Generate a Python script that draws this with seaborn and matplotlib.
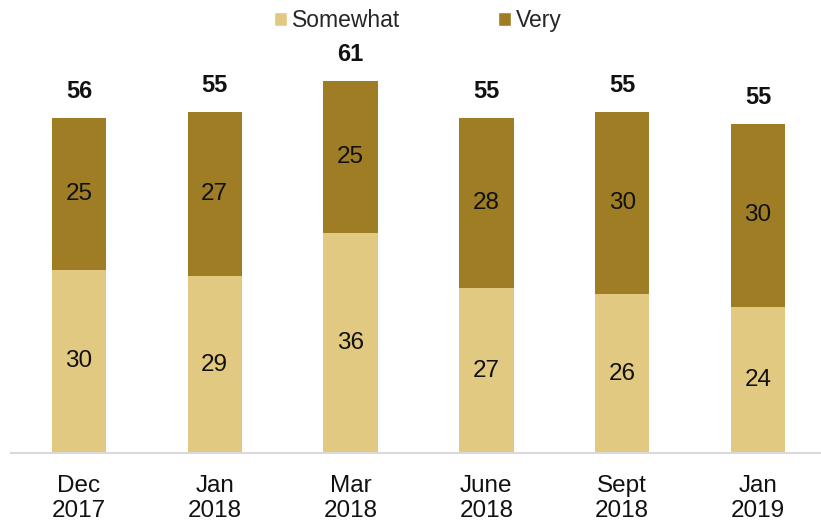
import matplotlib
matplotlib.use("Agg")
import matplotlib.pyplot as plt
import seaborn as sns
import pandas as pd
from matplotlib.patches import Patch

categories = ["Dec\n2017", "Jan\n2018", "Mar\n2018", "June\n2018", "Sept\n2018", "Jan\n2019"]
somewhat = [30, 29, 36, 27, 26, 24]
very = [25, 27, 25, 28, 30, 30]
totals = [56, 55, 61, 55, 55, 55]

LIGHT = "#E2C982"
DARK = "#9E7D24"

sns.set_theme(style="white")
plt.rcParams["font.family"] = ["Liberation Sans", "DejaVu Sans"]

df = pd.DataFrame({"cat": categories, "somewhat": somewhat, "very": very})
df["stack"] = df["somewhat"] + df["very"]

fig = plt.figure(figsize=(8.21, 5.23), dpi=100)
ax = fig.add_axes([0.0134, 0.134, 0.9866, 0.746])

sns.barplot(data=df, x="cat", y="stack", color=DARK, saturation=1, width=0.4, ax=ax, edgecolor="none")
sns.barplot(data=df, x="cat", y="somewhat", color=LIGHT, saturation=1, width=0.4, ax=ax, edgecolor="none")

for i, (s, v, t) in enumerate(zip(somewhat, very, totals)):
    ax.text(i, s / 2, str(s), ha="center", va="center", fontsize=17.5, color="#111111")
    ax.text(i, s + v / 2, str(v), ha="center", va="center", fontsize=17.5, color="#111111")
    ax.text(i, s + v + 4.3, str(t), ha="center", va="center", fontsize=17, fontweight="bold", color="#111111")

ax.set_xlim(-0.5, 5.464)
ax.set_ylim(0, 64)
ax.set_xlabel("")
ax.set_ylabel("")
ax.set_yticks([])
ax.tick_params(axis="x", length=0, labelsize=17.5, pad=16, colors="#111111")
for lab in ax.get_xticklabels():
    lab.set_linespacing(1.15)
for side in ["top", "right", "left"]:
    ax.spines[side].set_visible(False)
ax.spines["bottom"].set_color("#d9d9d9")
ax.spines["bottom"].set_linewidth(1.5)

handles = [Patch(facecolor=LIGHT, label="Somewhat"), Patch(facecolor=DARK, label="Very")]
fig.legend(handles=handles, loc="upper center", bbox_to_anchor=(0.509, 1.022), ncol=2, frameon=False,
           fontsize=16.5, handlelength=0.57, handleheight=0.57, handletextpad=0.2, columnspacing=4.3)

fig.savefig("out.png", dpi=100)
